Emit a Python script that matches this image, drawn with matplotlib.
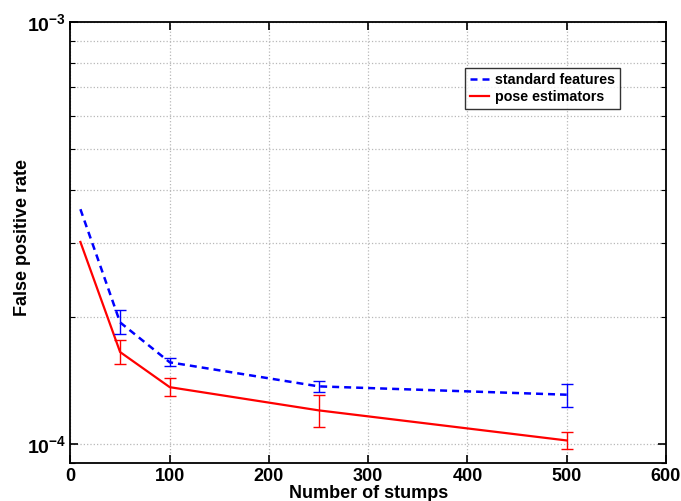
import numpy as np
import matplotlib
matplotlib.use('Agg')
import matplotlib.pyplot as plt
from matplotlib.ticker import LogLocator, NullFormatter, FixedLocator

plt.rcParams['font.family'] = ['Liberation Sans', 'DejaVu Sans']
plt.rcParams['font.weight'] = 'bold'
plt.rcParams['mathtext.fontset'] = 'custom'
plt.rcParams['mathtext.rm'] = 'Liberation Sans:bold'
plt.rcParams['mathtext.bf'] = 'Liberation Sans:bold'

# stump counts
stumps = [10, 50, 100, 250, 500]
stumps_err = [50, 100, 250, 500]

# standard features (blue dashed)
std_fp = [3.6e-4, 1.94e-4, 1.56e-4, 1.368e-4, 1.307e-4]
std_hi = [2.08e-4, 1.597e-4, 1.406e-4, 1.388e-4]
std_lo = [1.817e-4, 1.526e-4, 1.326e-4, 1.224e-4]

# pose estimators (red solid)
pose_fp = [3.01e-4, 1.65e-4, 1.362e-4, 1.2e-4, 1.018e-4]
pose_hi = [1.759e-4, 1.434e-4, 1.307e-4, 1.068e-4]
pose_lo = [1.549e-4, 1.297e-4, 1.095e-4, 0.969e-4]

fig = plt.figure(figsize=(6.81, 5.01), dpi=100)
ax = fig.add_axes([0.1035, 0.0758, 0.8744, 0.880])

ax.plot(stumps, std_fp, '--', color='blue', lw=1.8, dashes=(2.8, 2.0), label='standard features')
ax.plot(stumps, pose_fp, '-', color='red', lw=1.6, label='pose estimators')

c_std = np.array(std_fp[1:])
ax.errorbar(stumps_err, c_std, yerr=[c_std - np.array(std_lo), np.array(std_hi) - c_std],
            fmt='none', ecolor='blue', elinewidth=1.0, capsize=4.5, capthick=1.0)
c_pose = np.array(pose_fp[1:])
ax.errorbar(stumps_err, c_pose, yerr=[c_pose - np.array(pose_lo), np.array(pose_hi) - c_pose],
            fmt='none', ecolor='red', elinewidth=1.0, capsize=4.5, capthick=1.0)

ax.set_yscale('log')
ax.set_xlim(0, 600)
ax.set_ylim(9e-5, 1e-3)
ax.set_xticks([0, 100, 200, 300, 400, 500, 600])
ax.yaxis.set_major_locator(FixedLocator([1e-4, 1e-3]))
ax.set_yticklabels([r'$\mathbf{10^{-4}}$', r'$\mathbf{10^{-3}}$'])
ax.yaxis.set_minor_locator(LogLocator(base=10, subs=np.arange(2, 10)))
ax.yaxis.set_minor_formatter(NullFormatter())

ax.tick_params(which='both', direction='in', top=True, right=True, labelsize=13)
ax.tick_params(axis='y', which='major', labelsize=14, pad=3)
ax.tick_params(which='major', length=6, width=1.2)
ax.tick_params(which='minor', length=3.5, width=0.8)
for lab in ax.get_xticklabels():
    lab.set_fontweight('bold')
for s in ax.spines.values():
    s.set_linewidth(1.3)

ax.grid(True, which='major', axis='x', ls=':', color='#b8b8b8', lw=0.9)
ax.grid(True, which='both', axis='y', ls=':', color='#b8b8b8', lw=0.9)

ax.set_xlabel('Number of stumps', fontsize=13, fontweight='bold', labelpad=0)
ax.set_ylabel('False positive rate', fontsize=13, fontweight='bold')
ax.yaxis.set_label_coords(-0.066, 0.511)

leg = ax.legend(loc='upper right', bbox_to_anchor=(0.923, 0.896), fontsize=10.3, frameon=True,
                fancybox=False, edgecolor='black', handlelength=1.3, borderpad=0.35,
                labelspacing=0.2, handletextpad=0.45, borderaxespad=0)
leg.get_frame().set_linewidth(1.0)
for t in leg.get_texts():
    t.set_fontweight('bold')

fig.savefig('out.png', dpi=100)
